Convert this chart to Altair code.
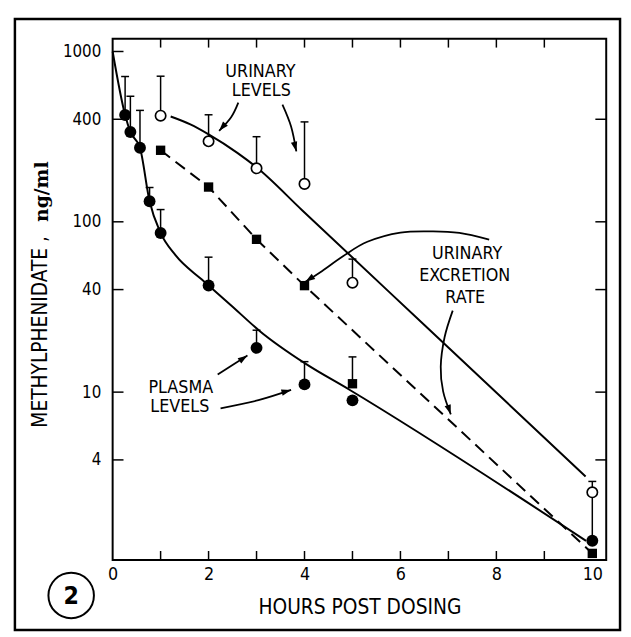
import altair as alt
import pandas as pd

FONT = "DejaVu Sans Condensed, DejaVu Sans, sans-serif"

# ---- data ----
plasma_t = [0.26, 0.37, 0.57, 0.77, 1, 2, 3, 4, 5, 10]
plasma_v = [424, 337, 272, 132, 86, 42.3, 18.2, 11.1, 8.95, 1.34]
plasma_top = [713, 546, 451, 159, 118, 62, 23.1, 15.1, None, 2.58]

urine_t = [1, 2, 3, 4, 5, 10]
urine_v = [420, 297, 206, 167, 43.9, 2.58]
urine_top = [716, 425, 316, 386, 60.4, 2.99]

rate_t = [1, 2, 3, 4, 5, 10]
rate_v = [263, 160, 78.9, 42.2, 11.2, 1.13]
rate_top = [None, None, None, None, 16.1, None]

# fitted curves as drawn
plasma_fit_t = [0, 0.26, 0.37, 0.57, 0.77, 1.0, 1.31, 1.86, 2.0, 2.46, 3.07, 4.02, 4.92, 9.87]
plasma_fit_v = [1000, 424, 337, 272, 132, 86, 63.7, 45.8, 42.3, 32.5, 22.8, 14.7, 10.4, 1.34]
urine_fit_t = [1.21, 1.62, 2.01, 2.60, 3.0, 3.95, 6.51, 9.86]
urine_fit_v = [415, 373, 325, 254, 209, 117, 24.6, 3.2]
rate_fit_t = [1, 2, 3, 4, 10]
rate_fit_v = [263, 160, 78.9, 42.2, 1.13]

# axis ticks
y_tick_values = [4, 10, 40, 100, 400, 1000]
y_right_ticks = [4, 10, 40, 100, 400]
x_label_values = [0, 2, 4, 6, 8, 10]
x_minor_ticks = [1, 2, 3, 4, 5, 6, 7, 8, 9]

# annotations (data coordinates)
label_text = ["URINARY", "LEVELS", "URINARY", "EXCRETION", "RATE", "PLASMA", "LEVELS"]
label_t = [3.08, 3.1, 7.39, 7.34, 7.35, 1.42, 1.40]
label_v = [759, 588, 64.9, 47.9, 35.6, 10.6, 8.13]

arrow_id = [1, 1, 1, 2, 2, 2, 3, 3, 3, 3, 3, 3, 3, 3, 4, 4, 4, 4, 4, 5, 5, 6, 6, 6]
arrow_t = [2.62, 2.47, 2.22, 3.54, 3.72, 3.83,
           7.85, 7.23, 6.68, 6.0, 5.31, 4.81, 4.33, 4.02,
           7.09, 6.92, 6.84, 6.89, 7.05,
           2.19, 2.81,
           2.25, 3.04, 3.72]
arrow_v = [501, 411, 342, 488, 363, 259,
           78.7, 86, 87.9, 86.5, 76.4, 63, 50.6, 44.5,
           30.1, 21.0, 14.1, 10.1, 7.41,
           12.7, 16.4,
           8.04, 8.97, 10.3]
head_t = [2.22, 3.83, 4.02, 7.05, 2.81, 3.72]
head_v = [342, 259, 44.5, 7.41, 16.4, 10.3]
head_angle = [221, 166, 236, 161, 56, 74]

# ---- tables ----
def pts(t, v, top):
    return pd.DataFrame({"t": t, "v": v, "top": top})

plasma = pts(plasma_t, plasma_v, plasma_top)
urine = pts(urine_t, urine_v, urine_top)
rate = pts(rate_t, rate_v, rate_top)
errs = pd.concat([plasma, urine, rate]).dropna(subset=["top"])

def curve(t, v):
    return pd.DataFrame({"t": t, "v": v, "ord": list(range(len(t)))})

arrows = pd.DataFrame({"id": arrow_id, "t": arrow_t, "v": arrow_v,
                       "ord": list(range(len(arrow_t)))})
heads = pd.DataFrame({"t": head_t, "v": head_v, "ang": head_angle})
labels = pd.DataFrame({"t": label_t, "v": label_v, "label": label_text})
one = pd.DataFrame({"a": [0]})

W, H = 500, 528

x_axis = alt.Axis(values=x_label_values, title="HOURS POST DOSING", ticks=False, domain=False,
                  grid=False, labelFontSize=18, labelPadding=6, labelFont=FONT, labelColor="black",
                  labelFlush=False, format="d", titleFont=FONT, titleFontSize=21,
                  titleFontWeight="normal", titleColor="black", titleY=54,
                  titleBaseline="alphabetic")
y_axis = alt.Axis(values=y_tick_values, title=None, ticks=False, domain=False, grid=False,
                  labelFontSize=17, labelPadding=12, labelFont=FONT, labelColor="black",
                  format="d", labelOverlap=False, labelFlush=False)

x_scale = alt.Scale(domain=[0, 10.29], nice=False, zero=False)
y_scale = alt.Scale(type="log", domain=[1.035, 1189], nice=False)
X = alt.X("t:Q", scale=x_scale, axis=x_axis)
Y = alt.Y("v:Q", scale=y_scale, axis=y_axis)
Ytop = alt.Y("top:Q", scale=y_scale, axis=y_axis)

frame = alt.Chart(one).mark_rect(fillOpacity=0, stroke="black", strokeWidth=2.5).encode(
    x=alt.value(-99), x2=alt.value(514), y=alt.value(-20), y2=alt.value(599))

left_ticks = alt.Chart(pd.DataFrame({"v": y_tick_values})).mark_rule(
    color="black", strokeWidth=1.5).encode(y=Y, x=alt.value(0), x2=alt.value(11))
right_ticks = alt.Chart(pd.DataFrame({"v": y_right_ticks})).mark_rule(
    color="black", strokeWidth=1.5).encode(y=Y, x=alt.value(W - 11), x2=alt.value(W))
top_ticks = alt.Chart(pd.DataFrame({"t": x_minor_ticks})).mark_rule(
    color="black", strokeWidth=1.5).encode(x=X, y=alt.value(0), y2=alt.value(9))
bottom_ticks = alt.Chart(pd.DataFrame({"t": x_minor_ticks})).mark_rule(
    color="black", strokeWidth=1.5).encode(x=X, y=alt.value(H - 9), y2=alt.value(H))

plasma_line = alt.Chart(curve(plasma_fit_t, plasma_fit_v)).mark_line(
    color="black", strokeWidth=2, interpolate="monotone").encode(x=X, y=Y, order="ord:Q")
urine_line = alt.Chart(curve(urine_fit_t, urine_fit_v)).mark_line(
    color="black", strokeWidth=2, interpolate="monotone").encode(x=X, y=Y, order="ord:Q")
rate_line = alt.Chart(curve(rate_fit_t, rate_fit_v)).mark_line(
    color="black", strokeWidth=2, strokeDash=[12, 7]).encode(x=X, y=Y, order="ord:Q")

err_stem = alt.Chart(errs).mark_rule(color="black", strokeWidth=1.5).encode(
    x=X, y=Y, y2=alt.Y2("top:Q"))
err_cap = alt.Chart(errs).mark_tick(orient="horizontal", size=8, thickness=1.5,
                                    color="black", opacity=1).encode(x=X, y=Ytop)

plasma_pts = alt.Chart(plasma).mark_point(shape="circle", filled=True, size=145,
                                          color="black", opacity=1).encode(x=X, y=Y)
urine_pts = alt.Chart(urine).mark_point(shape="circle", filled=True, fill="white",
                                        stroke="black", strokeWidth=1.7, size=110,
                                        opacity=1).encode(x=X, y=Y)
rate_pts = alt.Chart(rate).mark_point(shape="square", filled=True, size=90,
                                      color="black", opacity=1).encode(x=X, y=Y)

arrow_lines = alt.Chart(arrows).mark_line(color="black", strokeWidth=1.8,
                                          interpolate="cardinal").encode(
    x=X, y=Y, detail="id:N", order="ord:Q")
arrow_heads = alt.Chart(heads).mark_point(
    shape="M0,0L0.5,1.5L-0.5,1.5Z", filled=True, color="black", size=170,
    opacity=1).encode(x=X, y=Y, angle=alt.Angle("ang:Q", scale=None))

label_marks = alt.Chart(labels).mark_text(font=FONT, fontSize=18, color="black",
                                          align="center", baseline="middle").encode(
    x=X, y=Y, text="label:N")

ytitle1 = alt.Chart(one).mark_text(text="METHYLPHENIDATE ,", angle=270, font=FONT,
                                   fontSize=21, color="black", align="center",
                                   baseline="middle").encode(x=alt.value(-72), y=alt.value(297))
ytitle2 = alt.Chart(one).mark_text(text="ng/ml", angle=270, font="DejaVu Serif",
                                   fontWeight="bold", fontSize=19, color="black",
                                   align="center", baseline="middle").encode(
    x=alt.value(-71), y=alt.value(155))

circ = alt.Chart(one).mark_point(shape="circle", size=2124, filled=False, stroke="black",
                                 strokeWidth=2, opacity=1).encode(x=alt.value(-42), y=alt.value(564))
circ_txt = alt.Chart(one).mark_text(text="2", font=FONT, fontSize=25, fontWeight="bold",
                                    color="black", align="center", baseline="middle").encode(
    x=alt.value(-42), y=alt.value(565))

chart = alt.layer(
    plasma_line, frame, left_ticks, right_ticks, top_ticks, bottom_ticks,
    urine_line, rate_line, err_stem, err_cap,
    plasma_pts, urine_pts, rate_pts, arrow_lines, arrow_heads, label_marks,
    ytitle1, ytitle2, circ, circ_txt
).properties(
    width=W, height=H,
    padding={"left": 106, "top": 27, "right": 17, "bottom": 73},
    autosize=alt.AutoSizeParams(type="none"),
    background="white",
).configure_view(stroke="black", strokeWidth=2)

chart.save("out.html", embed_options={"renderer": "svg", "actions": False})
